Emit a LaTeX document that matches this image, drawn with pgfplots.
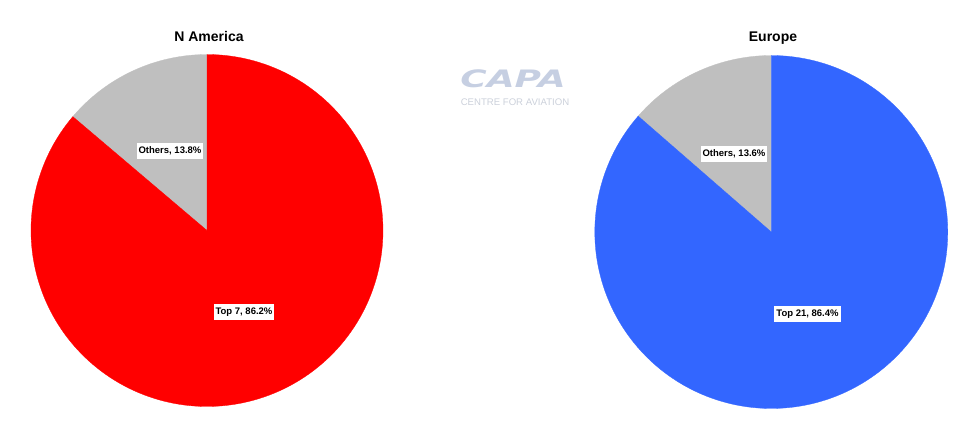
\documentclass[border=0pt]{standalone}
\usepackage{pgfplots}
\pgfplotsset{compat=1.18}
\usepackage{fontspec}
\setmainfont{Liberation Sans}
\newfontfamily\logofont{DejaVu Sans}
\definecolor{pieRed}{HTML}{FF0000}
\definecolor{pieBlue}{HTML}{3366FF}
\definecolor{pieGray}{HTML}{BFBFBF}
\definecolor{capaBlue}{HTML}{C6CFE2}
\definecolor{capaGray}{HTML}{CBD0DA}
% data (percent shares)
\def\naOthers{13.8}
\def\naTop{86.2}
\def\euOthers{13.6}
\def\euTop{86.4}
\begin{document}
\begin{tikzpicture}
\useasboundingbox (0,0) rectangle (980bp,437bp);
\begin{axis}[
  at={(0,0)}, anchor=south west,
  scale only axis, width=980bp, height=437bp,
  xmin=0, xmax=980, ymin=0, ymax=437,
  hide axis, clip=false,
  variable=\t,
]
% N America pie, centre (207, 437-230.5), radius 176
\addplot[fill=pieGray, draw=pieGray, line width=0.3pt, domain=0:\naOthers, samples=40]
  ({207+176*cos(90+3.6*t)}, {206.5+176*sin(90+3.6*t)}) -- (axis cs:207,206.5) -- cycle;
\addplot[fill=pieRed, draw=pieRed, line width=0.3pt, domain=\naOthers:100, samples=180]
  ({207+176*cos(90+3.6*t)}, {206.5+176*sin(90+3.6*t)}) -- (axis cs:207,206.5) -- cycle;
% Europe pie, centre (771.3, 437-232), radius 176.5
\addplot[fill=pieGray, draw=pieGray, line width=0.3pt, domain=0:\euOthers, samples=40]
  ({771.3+176.5*cos(90+3.6*t)}, {205+176.5*sin(90+3.6*t)}) -- (axis cs:771.3,205) -- cycle;
\addplot[fill=pieBlue, draw=pieBlue, line width=0.3pt, domain=\euOthers:100, samples=180]
  ({771.3+176.5*cos(90+3.6*t)}, {205+176.5*sin(90+3.6*t)}) -- (axis cs:771.3,205) -- cycle;
% titles
\node[font=\fontsize{14bp}{16bp}\selectfont\bfseries] at (axis cs:209,400) {N America};
\node[font=\fontsize{14bp}{16bp}\selectfont\bfseries] at (axis cs:773,399) {Europe};
% data labels
\tikzset{lbl/.style={fill=white, inner xsep=2bp, inner ysep=0pt, minimum height=16bp,
  font=\fontsize{9.5bp}{11bp}\selectfont\bfseries}}
\node[lbl] at (axis cs:170,286) {Others, 13.8\%};
\node[lbl] at (axis cs:244,124.5) {Top 7, 86.2\%};
\node[lbl] at (axis cs:734,283) {Others, 13.6\%};
\node[lbl] at (axis cs:807.5,123) {Top 21, 86.4\%};
% CAPA logo
\node[text=capaBlue, font=\fontsize{24bp}{26bp}\logofont\bfseries\itshape, inner sep=0pt]
  at (axis cs:513,358) {\scalebox{1.5}[1]{CAPA}};
\node[text=capaGray, font=\fontsize{9.6bp}{11bp}\selectfont, inner sep=0pt]
  at (axis cs:515,335) {CENTRE FOR AVIATION};
\end{axis}
\end{tikzpicture}
\end{document}
